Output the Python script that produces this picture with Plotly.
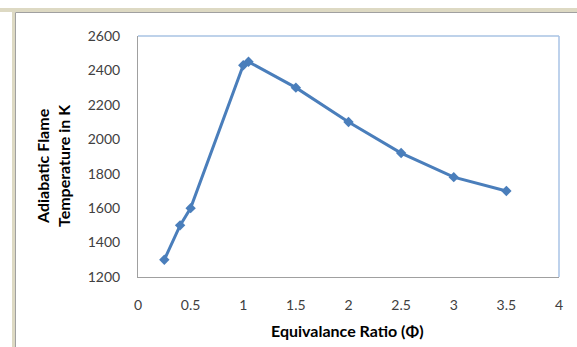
import plotly.graph_objects as go

phi = [0.25, 0.4, 0.5, 1.0, 1.05, 1.5, 2.0, 2.5, 3.0, 3.5]
temp = [1300, 1500, 1600, 2430, 2450, 2300, 2100, 1920, 1780, 1700]
x_ticks = [0, 0.5, 1, 1.5, 2, 2.5, 3, 3.5, 4]
y_ticks = [1200, 1400, 1600, 1800, 2000, 2200, 2400, 2600]

W, H = 577, 347
L, R, T, B = 138, 18, 36, 70
pw, ph = W - L - R, H - T - B

def px(xp):
    return (xp - L) / pw

def py(yp):
    return 1 - (yp - T) / ph

font = "Lato, Calibri, sans-serif"

fig = go.Figure()
fig.add_trace(go.Scatter(
    x=phi, y=temp, mode="lines+markers",
    line=dict(color="#4A7EBB", width=3),
    marker=dict(symbol="diamond", size=8, color="#4A7EBB"),
    showlegend=False,
))

shapes = [
    dict(type="rect", xref="paper", yref="paper", x0=px(0), x1=px(W), y0=py(8), y1=py(12),
         fillcolor="#DDD9C3", line=dict(width=0), layer="below"),
    dict(type="rect", xref="paper", yref="paper", x0=px(12), x1=px(15), y0=py(8), y1=py(H),
         fillcolor="#DDD9C3", line=dict(width=0), layer="below"),
    dict(type="line", xref="paper", yref="paper", x0=px(15.5), x1=px(W), y0=py(12.5), y1=py(12.5),
         line=dict(color="#A0A0A0", width=1)),
    dict(type="line", xref="paper", yref="paper", x0=px(15.5), x1=px(15.5), y0=py(12.5), y1=py(H),
         line=dict(color="#A0A0A0", width=1)),
    dict(type="line", xref="paper", yref="paper", x0=0, x1=1, y0=1, y1=1,
         line=dict(color="#7FA6D6", width=1.2)),
    dict(type="line", xref="paper", yref="paper", x0=1, x1=1, y0=0, y1=1,
         line=dict(color="#A9C3E6", width=1.5)),
]

fig.update_layout(
    width=W, height=H,
    margin=dict(l=L, r=R, t=T, b=B),
    paper_bgcolor="white", plot_bgcolor="white",
    font=dict(family=font, size=14, color="#404040"),
    shapes=shapes,
    xaxis=dict(range=[0, 4], tickvals=x_ticks, ticktext=[str(v) for v in x_ticks],
               showgrid=False, zeroline=False, showline=True, linecolor="#A0A0A0",
               linewidth=1, ticks="", ticklabelstandoff=15,
               tickfont=dict(family=font, size=14, color="#404040")),
    yaxis=dict(range=[1200, 2600], tickvals=y_ticks, ticktext=[str(v) for v in y_ticks],
               showgrid=False, zeroline=False, showline=True, linecolor="#A0A0A0",
               linewidth=1, ticks="", ticklabelstandoff=14,
               tickfont=dict(family=font, size=14, color="#404040")),
    annotations=[
        dict(text="<b>Equivalance Ratio (Φ)</b>", xref="paper", yref="paper",
             x=px(347), y=py(330), xanchor="center", yanchor="middle", showarrow=False,
             font=dict(family=font, size=16, color="#000000")),
        dict(text="<b>Adiabatic Flame<br>Temperature in K</b>", xref="paper", yref="paper",
             x=px(53), y=py(166), xanchor="center", yanchor="middle", showarrow=False,
             textangle=-90, font=dict(family=font, size=16, color="#000000")),
    ],
)

fig.write_html("out.html")
